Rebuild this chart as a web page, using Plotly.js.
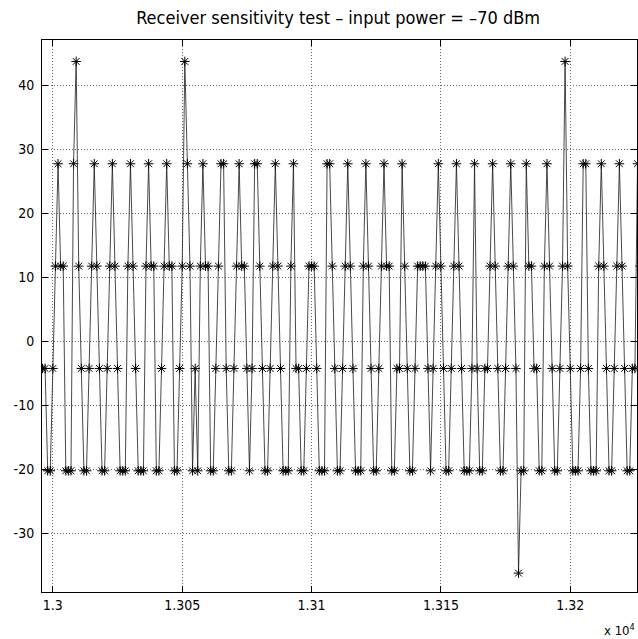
<!DOCTYPE html>
<html><head><meta charset="utf-8">
<script src="https://cdn.plot.ly/plotly-3.0.1.min.js"></script>
<style>html,body{margin:0;padding:0;background:#fff}</style>
</head><body>
<div id="chart" style="width:638px;height:639px"></div>
<script>
// first sample index shown (x axis is sample number)
const sampleStart = 12995;
// receiver output samples, one per sample index
const samples = [
  -4.25, -4.25, -4.25, -20.25, -20.25, -4.25, 11.75, 27.75, 11.75, 11.75,
  -20.25, -20.25, -20.25, 27.75, 43.75, 11.75, -4.25, -20.25, -20.25, -4.25,
  11.75, 27.75, 11.75, -4.25, -20.25, -20.25, -4.25, 11.75, 27.75, 11.75,
  -4.25, -20.25, -20.25, -20.25, 11.75, 27.75, 11.75, -4.25, -20.25, -20.25,
  -20.25, 11.75, 27.75, 11.75, 11.75, -20.25, -20.25, -4.25, 11.75, 27.75,
  11.75, 11.75, -20.25, -20.25, -4.25, 11.75, 43.75, 27.75, 11.75, -20.25,
  -4.25, -20.25, 11.75, 27.75, 11.75, 11.75, -20.25, -20.25, -4.25, 11.75,
  27.75, 27.75, -4.25, -20.25, -20.25, -4.25, 11.75, 27.75, 11.75, 11.75,
  -4.25, -20.25, -4.25, 27.75, 27.75, 11.75, -4.25, -20.25, -20.25, -4.25,
  11.75, 27.75, 11.75, -4.25, -20.25, -20.25, -20.25, 11.75, 27.75, -4.25,
  -4.25, -20.25, -20.25, -4.25, 11.75, 11.75, 11.75, -4.25, -20.25, -20.25,
  -20.25, 27.75, 27.75, 11.75, -4.25, -20.25, -20.25, -4.25, 11.75, 27.75,
  11.75, -4.25, -20.25, -20.25, -20.25, 11.75, 27.75, 11.75, -4.25, -20.25,
  -20.25, -4.25, 11.75, 27.75, 11.75, 11.75, -20.25, -20.25, -4.25, -4.25,
  27.75, 11.75, -4.25, -20.25, -20.25, -4.25, 11.75, 11.75, 11.75, 11.75,
  -4.25, -20.25, -4.25, 11.75, 27.75, 11.75, -4.25, -20.25, -20.25, -4.25,
  11.75, 27.75, 11.75, -4.25, -20.25, -20.25, -20.25, -4.25, 27.75, -4.25,
  -20.25, -20.25, -4.25, -4.25, 11.75, 27.75, 11.75, -4.25, -20.25, -20.25,
  -4.25, 11.75, 27.75, 11.75, -4.25, -36.25, -20.25, -20.25, 27.75, 11.75,
  11.75, -4.25, -4.25, -20.25, -20.25, 11.75, 27.75, 11.75, -4.25, -20.25,
  -20.25, -4.25, 11.75, 43.75, 11.75, -4.25, -20.25, -20.25, -20.25, -4.25,
  27.75, 27.75, -4.25, -20.25, -20.25, -20.25, 11.75, 27.75, 11.75, -4.25,
  -20.25, -20.25, -4.25, 11.75, 27.75, 11.75, -4.25, -20.25, -20.25, -4.25,
  -4.25, 27.75, 11.75
];
const xTickVals = [13000, 13050, 13100, 13150, 13200];
const xTickText = ["1.3", "1.305", "1.31", "1.315", "1.32"];
const yTickVals = [-30, -20, -10, 0, 10, 20, 30, 40];
const yTickText = ["-30", "-20", "-10", "0", "10", "20", "30", "40"];
const titleText = "Receiver sensitivity test \u2013 input power = \u201370 dBm";

const xs = samples.map((v, i) => sampleStart + i);
const FONT = '"Liberation Sans Narrow", "DejaVu Sans Condensed", "Liberation Sans", Arial, sans-serif';

const trace = {
  x: xs, y: samples, type: 'scatter', mode: 'lines+markers',
  line: {color: '#1a1a1a', width: 0.8},
  marker: {symbol: 'asterisk-open', size: 8, color: '#000', line: {color: '#2a2a2a', width: 1}},
  cliponaxis: true, hoverinfo: 'skip'
};

const axisCommon = {
  showline: true, linecolor: '#000', linewidth: 1, mirror: 'ticks',
  ticks: 'inside', ticklen: 6, tickcolor: '#000', tickwidth: 1,
  showgrid: true, gridcolor: '#666', gridwidth: 1, griddash: '1px,2px',
  zeroline: false, tickfont: {family: FONT, size: 14, color: '#000'}
};

const layout = {
  width: 638, height: 639,
  margin: {l: 42, r: 1, t: 40, b: 47, pad: 0},
  paper_bgcolor: '#fff', plot_bgcolor: '#fff',
  showlegend: false,
  title: {text: titleText, x: 0.53, xanchor: 'center', y: 0.972, yanchor: 'middle',
          font: {family: FONT, size: 18, color: '#000'}},
  xaxis: Object.assign({}, axisCommon, {range: [12995.8, 13225.8], tickvals: xTickVals, ticktext: xTickText}),
  yaxis: Object.assign({}, axisCommon, {range: [-39.2, 47.1], tickvals: yTickVals, ticktext: yTickText,
          ticklabelstandoff: 4}),
  annotations: [{
    text: 'x 10<sup>4</sup>', xref: 'paper', yref: 'paper', x: 1, y: 0, xanchor: 'right', yanchor: 'top',
    yshift: -28, showarrow: false, font: {family: FONT, size: 13, color: '#000'}
  }]
};

Plotly.newPlot('chart', [trace], layout, {staticPlot: true, displayModeBar: false});
</script>
</body></html>
